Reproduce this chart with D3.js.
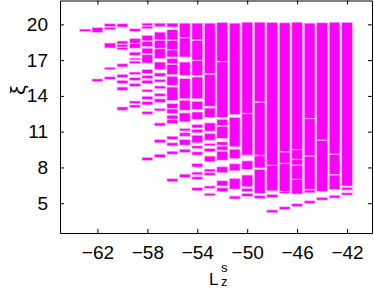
<!DOCTYPE html>
<html>
<head>
<meta charset="utf-8">
<script src="https://cdn.jsdelivr.net/npm/d3@7"></script>
<style>
  body { margin: 0; background: #fff; }
  svg { display: block; }
</style>
</head>
<body>
<div id="chart"></div>
<script>
// tick values
var xTicks = [-62, -58, -54, -50, -46, -42];
var yTicks = [5, 8, 11, 14, 17, 20];

// L_z^s columns, left to right
var columns = [-63, -62, -61, -60, -59, -58, -57, -56, -55, -54, -53, -52, -51, -50, -49, -48, -47, -46, -45, -44, -43, -42];

// xi levels for each column, as [low, high] of each dash / merged block
var c63 = [[19.4, 19.6]];
var c62 = [[19.32, 19.74], [15.2, 15.42]];
var c61 = [[19.8, 20.05], [19.55, 19.76], [18.02, 18.43], [16.2, 16.4], [15.38, 15.6]];
var c60 = [[19.77, 20.05], [18.35, 18.6], [18.1, 18.32], [17.86, 18.07], [16.43, 16.69], [15.53, 15.8], [15.03, 15.31], [14.47, 14.74], [12.8, 13.07]];
var c59 = [[19.4, 19.63], [18.42, 18.8], [18.0, 18.38], [17.4, 17.67], [17.02, 17.17], [16.7, 16.92], [15.78, 16.0], [15.3, 15.53], [14.8, 15.03], [13.36, 13.57], [13.02, 13.24]];
var c58 = [[19.88, 20.1], [19.63, 19.85], [18.62, 19.07], [18.15, 18.58], [17.54, 18.0], [16.75, 17.45], [15.87, 16.2], [15.45, 15.72], [15.03, 15.31], [14.33, 14.53], [13.69, 13.97], [13.24, 13.52], [12.46, 12.69], [8.59, 8.84]];
var c57 = [[19.8, 20.1], [18.7, 19.35], [18.0, 18.65], [17.12, 17.95], [16.2, 16.84], [15.64, 15.92], [15.16, 15.39], [14.6, 14.83], [13.97, 14.2], [13.45, 13.75], [12.74, 12.94], [11.48, 11.73], [10.06, 10.34], [8.84, 9.11]];
var c56 = [[19.77, 20.1], [18.7, 19.55], [17.9, 18.65], [17.26, 17.85], [16.7, 17.12], [15.78, 16.62], [14.89, 15.64], [13.63, 14.74], [12.95, 13.36], [12.52, 12.9], [12.05, 12.38], [11.68, 12.0], [10.34, 10.62], [9.8, 10.06], [9.11, 9.36], [6.8, 7.05]];
var c55 = [[18.9, 20.1], [17.26, 18.85], [15.72, 16.84], [13.77, 15.45], [12.8, 13.63], [11.82, 12.57], [11.06, 11.26], [10.62, 10.9], [9.87, 10.34], [9.25, 9.53], [7.15, 7.44]];
var c54 = [[18.7, 20.1], [17.0, 18.65], [15.72, 16.95], [13.77, 15.58], [12.85, 13.55], [12.02, 12.65], [11.31, 11.6], [10.9, 11.2], [10.06, 10.7], [9.59, 9.81], [9.03, 9.31], [8.03, 8.32], [7.38, 7.61], [6.99, 7.21], [6.04, 6.31]];
var c53 = [[15.87, 20.1], [13.13, 15.8], [12.2, 12.98], [11.04, 11.73], [10.28, 10.85], [9.81, 10.01], [9.31, 9.59], [8.47, 8.95], [7.63, 7.86], [7.33, 7.55], [6.24, 6.44], [5.62, 5.82]];
var c52 = [[16.9, 20.15], [12.2, 16.85], [11.5, 12.04], [10.44, 11.45], [9.87, 10.14], [9.45, 9.78], [8.61, 9.36], [7.55, 8.05], [6.44, 6.88], [5.96, 6.29]];
var c51 = [[12.43, 20.1], [9.73, 12.2], [8.75, 9.53], [7.72, 8.3], [6.18, 7.08], [5.35, 5.6]];
var c50 = [[12.55, 20.18], [9.03, 12.5], [7.83, 8.55], [6.38, 7.36], [5.96, 6.24], [5.57, 5.82]];
var c49 = [[13.5, 20.18], [9.03, 13.45], [7.96, 8.97], [5.82, 7.83], [5.4, 5.63]];
var c48 = [[8.19, 20.16], [6.04, 8.15], [5.49, 5.74], [4.2, 4.43]];
var c47 = [[9.33, 20.13], [8.36, 9.29], [5.99, 8.31], [5.82, 5.96], [4.48, 4.7]];
var c46 = [[9.52, 20.18], [8.69, 9.48], [8.21, 8.65], [7.02, 8.17], [5.77, 6.98], [4.72, 4.95]];
var c45 = [[12.12, 20.1], [8.97, 12.08], [6.17, 8.93], [5.87, 6.1], [4.99, 5.2]];
var c44 = [[10.3, 20.13], [6.0, 10.26], [5.26, 5.49]];
var c43 = [[9.13, 20.18], [7.4, 9.09], [6.16, 7.36], [5.43, 5.66]];
var c42 = [[6.44, 20.16], [6.1, 6.33], [5.68, 5.87]];

var columnLevels = [c63, c62, c61, c60, c59, c58, c57, c56, c55, c54, c53, c52, c51, c50, c49, c48, c47, c46, c45, c44, c43, c42];

var W = 374, H = 290;
var plotLeft = 60, plotRight = 372, plotTop = 0.5, plotBottom = 233;
var halfWidth = 0.43;

var svg = d3.select("#chart").append("svg")
  .attr("width", W)
  .attr("height", H);

var x = d3.scaleLinear().domain([-65, -40]).range([plotLeft, plotRight]);
var y = d3.scaleLinear().domain([2.5, 22]).range([plotBottom, plotTop]);

// flatten into rects
var rects = [];
columns.forEach(function(c, i) {
  columnLevels[i].forEach(function(b) {
    rects.push({c: c, lo: b[0], hi: b[1]});
  });
});

svg.append("g").selectAll("rect")
  .data(rects)
  .enter().append("rect")
  .attr("x", function(d) { return x(d.c - halfWidth); })
  .attr("width", function(d) { return x(d.c + halfWidth) - x(d.c - halfWidth); })
  .attr("y", function(d) { return y(d.hi); })
  .attr("height", function(d) { return y(d.lo) - y(d.hi); })
  .attr("fill", "#ff00ff")
  .attr("stroke", "#ffb0ff")
  .attr("stroke-width", 0.7);

function minus(v) { return String(v).replace("-", "\u2212"); }

var font = "'Liberation Sans', Arial, Helvetica, sans-serif";

// Add the X Axis (bottom with labels, top without)
var xb = svg.append("g")
  .attr("transform", "translate(0," + plotBottom + ")")
  .call(d3.axisBottom(x).tickValues(xTicks).tickSize(-4).tickSizeOuter(0).tickPadding(13).tickFormat(minus));
var xt = svg.append("g")
  .attr("transform", "translate(0," + plotTop + ")")
  .call(d3.axisTop(x).tickValues(xTicks).tickSize(-4).tickSizeOuter(0).tickFormat(""));

// Add the Y Axis (left with labels, right without)
var yl = svg.append("g")
  .attr("transform", "translate(" + plotLeft + ",0)")
  .call(d3.axisLeft(y).tickValues(yTicks).tickSize(-4).tickSizeOuter(0).tickPadding(12));
var yr = svg.append("g")
  .attr("transform", "translate(" + plotRight + ",0)")
  .call(d3.axisRight(y).tickValues(yTicks).tickSize(-4).tickSizeOuter(0).tickFormat(""));

[xb, xt, yl, yr].forEach(function(g) {
  g.selectAll("path, line").attr("stroke", "#000").attr("stroke-width", 1);
  g.selectAll("text")
    .attr("font-family", font)
    .attr("font-size", 19)
    .attr("fill", "#000");
});

// y label
svg.append("text")
  .attr("transform", "translate(25,90) rotate(-90)")
  .attr("text-anchor", "middle")
  .attr("font-family", font)
  .attr("font-size", 21)
  .text("\u03be");

// x label L_z^s
svg.append("text")
  .attr("x", 209)
  .attr("y", 285)
  .attr("font-family", font)
  .attr("font-size", 17)
  .text("L");
svg.append("text")
  .attr("x", 221)
  .attr("y", 272)
  .attr("font-family", font)
  .attr("font-size", 13)
  .text("s");
svg.append("text")
  .attr("x", 221)
  .attr("y", 286)
  .attr("font-family", font)
  .attr("font-size", 13)
  .text("z");
</script>
</body>
</html>
